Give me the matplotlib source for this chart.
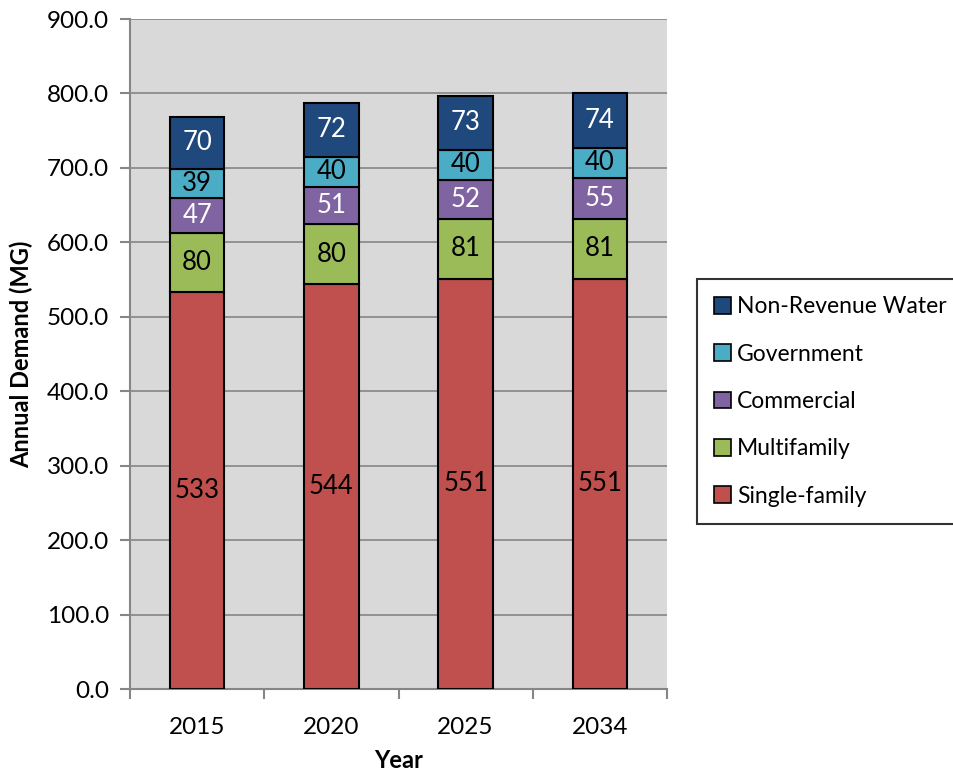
import numpy as np
import matplotlib.pyplot as plt
from matplotlib.patches import Patch

plt.rcParams['font.family'] = ['Lato', 'DejaVu Sans']

# Données
annees = ["2015", "2020", "2025", "2034"]
single_family = [533, 544, 551, 551]
multifamily = [80, 80, 81, 81]
commercial = [47, 51, 52, 55]
government = [39, 40, 40, 40]
non_revenue = [70, 72, 73, 74]

series = [
    ("Single-family", single_family, "#C0504D", "black"),
    ("Multifamily", multifamily, "#9BBB59", "black"),
    ("Commercial", commercial, "#8064A2", "white"),
    ("Government", government, "#4BACC6", "black"),
    ("Non-Revenue Water", non_revenue, "#1F497D", "white"),
]

fig = plt.figure(figsize=(9.54, 7.74), dpi=100)
ax = fig.add_axes([130 / 954, 1 - 689 / 774, 537 / 954, 670 / 774])
ax.set_facecolor("#D9D9D9")

x = np.arange(len(annees))
bottom = np.zeros(len(annees))
handles = []
for nom, vals, couleur, txt in series:
    vals = np.array(vals, dtype=float)
    ax.bar(x, vals, 0.405, bottom=bottom, color=couleur,
           edgecolor="black", linewidth=1.5, zorder=3)
    for xi, b, v in zip(x, bottom, vals):
        ax.text(xi, b + v / 2, f"{v:.0f}", ha="center", va="center",
                color=txt, fontsize=18.5, zorder=4)
    bottom += vals
    handles.append(Patch(facecolor=couleur, edgecolor="black", linewidth=1.2, label=nom))

ax.set_xlim(-0.5, len(annees) - 0.5)
ax.set_ylim(0, 900)
ax.set_yticks(np.arange(0, 901, 100))
ax.set_yticklabels([f"{v:.1f}" for v in np.arange(0, 901, 100)], fontsize=17.5)
ax.set_xticks(x)
ax.set_xticklabels(annees, fontsize=17.5)
ax.set_xticks(np.arange(-0.5, len(annees), 1), minor=True)
ax.tick_params(axis="x", which="major", length=0, pad=20)
ax.tick_params(axis="x", which="minor", length=7, color="#868686", width=1.5, direction="out")
ax.tick_params(axis="y", length=7, color="#868686", width=1.5, direction="out", pad=8)
ax.grid(axis="y", color="#868686", linewidth=1.2, zorder=0)
ax.set_axisbelow(True)
for s in ["top", "right"]:
    ax.spines[s].set_visible(False)
for s in ["left", "bottom"]:
    ax.spines[s].set_color("#868686")
    ax.spines[s].set_linewidth(1.5)

ax.set_ylabel("Annual Demand (MG)", fontsize=17, fontweight="bold", labelpad=10)
ax.set_xlabel("Year", fontsize=17, fontweight="bold", labelpad=8)

leg = fig.legend(handles=handles[::-1], loc="upper left",
                 bbox_to_anchor=(697 / 954, 1 - 279 / 774), fontsize=16.5,
                 frameon=True, fancybox=False, edgecolor="black",
                 handlelength=0.75, handleheight=0.75, handletextpad=0.25,
                 labelspacing=1.15, borderpad=0.75, borderaxespad=0)
leg.get_frame().set_linewidth(1.5)

fig.savefig("out.png", dpi=100)
